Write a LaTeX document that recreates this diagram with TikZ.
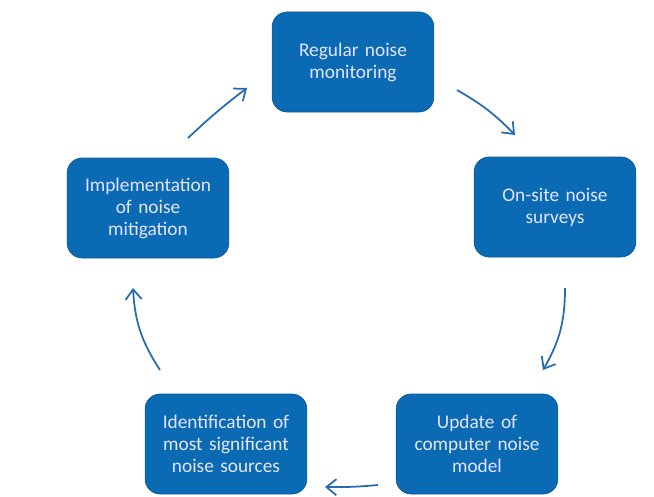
\documentclass[tikz,border=0pt]{standalone}
\usepackage{fontspec}
\setmainfont{Carlito}
\usetikzlibrary{arrows.meta}
\definecolor{boxBlue}{RGB}{11,106,180}
\definecolor{arrowBlue}{RGB}{38,108,178}
\tikzset{
    ->, % makes the connectors directed
    >={Straight Barb[length=2mm,width=3.2mm]}, % open arrow heads
    every node/.style={-}, % keeps the boxes free of arrow tips
}

\begin{document}
\begin{tikzpicture}[
                                boxStyle/.style={draw=boxBlue!85!black, fill=boxBlue, rounded corners=3mm,
                                    minimum width=3.2cm, minimum height=2cm, text width=3cm, align=center,
                                    text=white!90!blue, font=\fontsize{11}{12.5}\selectfont},
                                cycleArrow/.style={arrowBlue, line width=1pt},
                            ]
                            \useasboundingbox (0,0) rectangle (13.08,9.92);
                            \node[boxStyle] (monitor) at (7.06,8.68) {Regular noise\\monitoring};
                            \node[boxStyle] (survey) at (11.10,5.78) {On-site noise\\surveys};
                            \node[boxStyle] (model) at (9.54,1.04) {Update of\\computer noise\\model};
                            \node[boxStyle] (sources) at (4.52,1.04) {Identification of\\most significant\\noise sources};
                            \node[boxStyle] (mitigation) at (2.96,5.76) {Implementation\\of noise\\mitigation};
                            % free ends of the cycle arrows
                            \coordinate (a1) at (9.14,8.12);
                            \coordinate (b1) at (10.30,7.22);
                            \coordinate (a2) at (11.30,4.16);
                            \coordinate (b2) at (10.86,2.52);
                            \coordinate (a3) at (7.56,0.22);
                            \coordinate (b3) at (6.50,0.18);
                            \coordinate (a4) at (3.20,2.52);
                            \coordinate (b4) at (2.66,4.16);
                            \coordinate (a5) at (3.76,7.16);
                            \coordinate (b5) at (4.94,8.16);
                            \path
                            (a1) edge[cycleArrow, bend left=8] (b1)
                            (a2) edge[cycleArrow, bend left=15] (b2)
                            (a3) edge[cycleArrow, bend left=3] (b3)
                            (a4) edge[cycleArrow, bend left=15] (b4)
                            (a5) edge[cycleArrow, bend left=3] (b5);
                        \end{tikzpicture}
\end{document}
